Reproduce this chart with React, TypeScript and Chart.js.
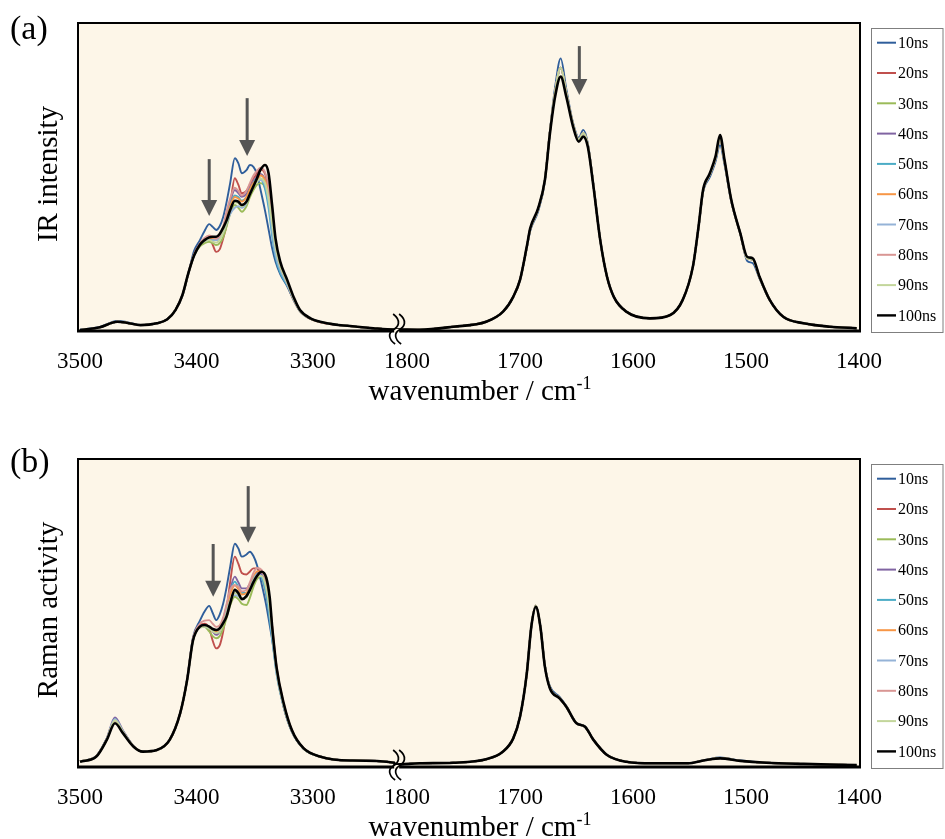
import React, { useEffect, useRef } from 'react';
import { Chart, registerables } from 'chart.js';
Chart.register(...registerables);

// ---------- series meta ----------
const seriesLabels = ['10ns', '20ns', '30ns', '40ns', '50ns', '60ns', '70ns', '80ns', '90ns', '100ns'];
const seriesColors = ['#2F5E9B', '#C0504D', '#9BBB59', '#8064A2', '#4BACC6', '#F79646', '#95B3D7', '#D99694', '#C3D69B', '#000000'];

// ---------- x axis (broken: 3500-3230 | 1811-1400) ----------
const xTickWaves = [3500, 3400, 3300, 1800, 1700, 1600, 1500, 1400];
const xTickLabels = ['3500', '3400', '3300', '1800', '1700', '1600', '1500', '1400'];
const BREAK_U = 278;
const X_MIN = -1.8;
const X_MAX = 690.3;
function toU(w: number): number {
  return w >= 2500 ? (3500 - w) * 1.03 : 289.4 + (1800 - w);
}

// ---------- (a) IR ----------
const irLeftWave = [3500, 3483, 3468, 3460, 3448, 3434, 3425, 3418, 3412, 3407, 3402, 3397, 3393, 3389, 3386, 3383, 3380, 3377, 3374, 3371, 3367, 3364, 3361, 3357, 3354, 3351, 3348, 3345, 3341, 3338, 3335, 3332, 3328, 3322, 3316, 3311, 3302, 3288, 3268, 3248, 3230];
const ir10L = [0.4, 1.3, 3.3, 2.9, 1.9, 2.5, 3.8, 6.8, 11.5, 18.5, 26.0, 29.5, 32.5, 34.7, 33.8, 32.8, 34.0, 37.0, 42.0, 48.0, 56.1, 54.5, 51.2, 52.2, 53.9, 53.3, 51.0, 46.0, 39.0, 33.0, 27.0, 22.5, 18.5, 14.5, 9.8, 6.5, 4.0, 2.5, 1.6, 0.9, 0.5];
const ir20L = [0.3, 1.2, 3.0, 2.7, 1.9, 2.5, 3.8, 6.8, 11.6, 18.6, 25.0, 28.3, 30.0, 30.5, 28.0, 25.7, 26.5, 30.0, 34.5, 41.0, 49.6, 47.5, 44.7, 45.5, 47.5, 49.5, 51.0, 52.5, 51.0, 46.0, 37.0, 27.5, 20.5, 15.0, 9.6, 6.4, 3.9, 2.4, 1.6, 0.9, 0.5];
const ir30L = [0.3, 1.2, 3.0, 2.7, 1.9, 2.5, 3.8, 6.8, 11.6, 18.6, 24.5, 27.5, 28.5, 29.0, 28.5, 27.9, 28.5, 30.5, 34.0, 38.0, 40.9, 40.0, 38.7, 40.5, 43.5, 45.8, 47.5, 48.0, 46.5, 41.5, 34.0, 27.0, 21.0, 15.5, 10.0, 6.5, 4.0, 2.5, 1.6, 0.9, 0.5];
const ir40L = [0.3, 1.2, 3.0, 2.7, 1.9, 2.5, 3.8, 6.8, 11.6, 18.6, 24.8, 28.3, 30.0, 30.8, 30.0, 29.5, 30.5, 33.0, 37.0, 42.0, 45.8, 44.8, 43.6, 44.5, 46.5, 48.5, 50.0, 51.0, 49.0, 44.0, 35.0, 26.5, 20.5, 15.5, 10.0, 6.5, 4.0, 2.5, 1.6, 0.9, 0.5];
const ir50L = [0.3, 1.2, 3.0, 2.7, 1.9, 2.5, 3.8, 6.8, 11.6, 18.6, 24.8, 28.2, 29.8, 30.0, 29.8, 29.5, 30.5, 33.0, 37.0, 41.0, 44.0, 43.5, 42.3, 43.5, 46.0, 48.0, 49.5, 49.5, 46.0, 40.0, 31.0, 24.0, 19.0, 14.8, 9.8, 6.4, 4.0, 2.5, 1.6, 0.9, 0.5];
const ir60L = [0.3, 1.2, 3.0, 2.7, 1.9, 2.5, 3.8, 6.8, 11.6, 18.6, 24.7, 28.1, 29.7, 30.2, 30.0, 29.8, 30.8, 33.2, 36.8, 40.5, 43.5, 43.0, 42.0, 43.5, 46.0, 48.0, 49.0, 50.5, 49.0, 45.0, 36.0, 27.0, 21.0, 15.8, 10.2, 6.6, 4.0, 2.5, 1.6, 0.9, 0.5];
const ir70L = [0.3, 1.2, 3.0, 2.7, 1.9, 2.5, 3.8, 6.8, 11.6, 18.6, 24.6, 28.0, 29.3, 29.5, 29.5, 29.5, 30.0, 32.0, 35.0, 38.0, 40.0, 40.5, 40.0, 41.5, 44.5, 47.0, 48.5, 49.0, 47.5, 42.0, 33.0, 25.0, 20.0, 15.2, 10.0, 6.5, 4.0, 2.5, 1.6, 0.9, 0.5];
const ir80L = [0.3, 1.2, 3.0, 2.7, 1.9, 2.5, 3.8, 6.8, 11.6, 18.6, 24.8, 28.4, 30.2, 31.0, 30.5, 30.0, 31.0, 34.0, 39.0, 43.0, 46.5, 45.5, 44.0, 45.5, 48.0, 50.5, 52.0, 53.0, 51.5, 47.0, 37.0, 28.0, 21.0, 15.8, 10.2, 6.6, 4.0, 2.5, 1.6, 0.9, 0.5];
const ir90L = [0.3, 1.2, 3.0, 2.7, 1.9, 2.5, 3.8, 6.8, 11.6, 18.6, 24.6, 28.0, 29.2, 29.5, 29.0, 28.7, 29.5, 32.0, 35.5, 39.5, 41.8, 41.5, 40.5, 42.0, 44.5, 47.0, 48.5, 49.5, 48.0, 43.0, 35.0, 27.0, 21.0, 15.8, 10.2, 6.6, 4.0, 2.5, 1.6, 0.9, 0.5];
const ir100L = [0.3, 1.2, 3.0, 2.7, 1.9, 2.5, 3.8, 6.8, 11.7, 18.7, 24.5, 28.0, 29.5, 30.4, 30.6, 30.6, 31.5, 33.5, 36.0, 39.3, 42.3, 42.0, 40.9, 42.0, 44.5, 47.0, 49.5, 52.3, 53.9, 51.2, 41.0, 30.0, 22.5, 16.6, 10.6, 6.8, 4.1, 2.5, 1.6, 0.9, 0.5];

const irRightWave = [1811, 1789, 1759, 1730, 1715, 1706, 1700, 1694, 1691, 1684, 1678, 1673.5, 1669, 1664, 1659, 1653, 1648, 1644, 1640, 1635, 1629, 1623, 1617, 1606, 1585, 1567, 1556, 1547, 1542, 1538, 1532, 1527, 1523, 1519, 1513, 1505, 1499, 1494, 1488, 1479, 1467, 1449, 1426, 1402];
const ir10R = [0.5, 0.4, 1.4, 3.0, 6.3, 11.1, 16.6, 27.0, 32.5, 38.8, 48.5, 65.0, 79.0, 88.5, 78.5, 67.5, 62.8, 65.3, 61.0, 47.5, 29.5, 17.6, 11.1, 6.3, 4.1, 5.2, 10.1, 20.9, 33.5, 45.0, 50.0, 55.0, 60.4, 54.0, 42.0, 31.5, 22.8, 22.0, 17.0, 10.1, 4.6, 2.5, 1.4, 0.9];
const irMidR = [0.5, 0.4, 1.4, 3.0, 6.3, 11.1, 16.6, 27.2, 33.0, 39.5, 49.0, 64.8, 77.5, 85.5, 77.2, 67.0, 62.2, 64.2, 60.5, 47.2, 29.5, 17.6, 11.1, 6.3, 4.1, 5.2, 10.1, 20.9, 33.7, 45.5, 50.8, 56.0, 62.2, 55.0, 42.3, 31.6, 23.6, 23.2, 17.4, 10.1, 4.6, 2.5, 1.4, 0.9];
const ir100R = [0.5, 0.4, 1.4, 3.0, 6.3, 11.1, 16.6, 27.4, 33.3, 39.8, 49.0, 64.2, 76.0, 82.6, 76.0, 66.3, 61.5, 63.1, 59.8, 46.9, 29.5, 17.6, 11.1, 6.3, 4.1, 5.2, 10.1, 20.9, 33.9, 45.8, 51.2, 56.6, 63.6, 55.5, 42.5, 31.7, 24.1, 23.6, 17.6, 10.1, 4.6, 2.5, 1.4, 0.9];

// ---------- (b) Raman ----------
const ramanLeftWave = [3500, 3486, 3477, 3470, 3463, 3454, 3446, 3434, 3423, 3414, 3408, 3403, 3397, 3393, 3389, 3386, 3383, 3380, 3377, 3374, 3371, 3367, 3364, 3361, 3357, 3354, 3351, 3348, 3344, 3340, 3337, 3335, 3331, 3325, 3318, 3308, 3294, 3268, 3230];
const ra10L = [1.8, 3.6, 9.2, 15.2, 11.5, 6.8, 5.0, 5.5, 8.8, 17.4, 28.5, 42.0, 47.5, 50.5, 52.3, 50.0, 47.7, 49.5, 53.1, 58.5, 65.0, 72.5, 71.0, 68.3, 69.0, 69.9, 68.5, 65.6, 59.5, 52.5, 46.0, 41.5, 31.0, 19.5, 11.5, 6.0, 3.4, 2.1, 1.4];
const ra20L = [1.8, 3.5, 9.0, 15.0, 11.2, 6.7, 5.0, 5.5, 8.8, 17.4, 28.3, 41.5, 46.0, 46.5, 45.0, 41.0, 38.5, 39.5, 44.0, 51.0, 60.0, 68.3, 66.0, 63.0, 62.5, 63.5, 64.5, 64.5, 62.0, 56.0, 49.0, 44.0, 31.0, 19.5, 11.6, 6.0, 3.4, 2.1, 1.4];
const ra30L = [1.8, 3.5, 9.0, 15.2, 11.3, 6.7, 5.0, 5.5, 8.8, 17.4, 28.2, 41.0, 45.3, 45.5, 44.0, 42.5, 41.8, 42.5, 45.0, 48.5, 52.5, 55.3, 54.5, 53.0, 52.6, 55.0, 58.5, 61.0, 62.0, 59.0, 52.0, 45.0, 31.0, 20.0, 11.8, 6.0, 3.4, 2.1, 1.4];
const ra40L = [1.8, 3.6, 9.4, 16.1, 11.8, 6.8, 5.0, 5.5, 8.8, 17.4, 28.2, 41.2, 45.6, 46.0, 45.5, 44.0, 42.9, 44.0, 47.0, 52.0, 57.5, 61.8, 60.0, 58.0, 58.0, 59.5, 61.5, 63.0, 62.5, 58.0, 51.0, 44.0, 31.0, 20.0, 11.8, 6.0, 3.4, 2.1, 1.4];
const ra50L = [1.8, 3.5, 9.2, 15.5, 11.5, 6.7, 5.0, 5.5, 8.8, 17.4, 28.2, 41.2, 45.6, 46.0, 45.5, 44.5, 44.0, 45.0, 48.0, 52.5, 57.0, 60.2, 58.5, 56.5, 56.5, 58.5, 61.0, 62.5, 61.5, 56.0, 48.0, 42.0, 30.0, 19.5, 11.6, 6.0, 3.4, 2.1, 1.4];
const ra60L = [1.8, 3.5, 9.1, 15.3, 11.4, 6.7, 5.0, 5.5, 8.8, 17.4, 28.2, 41.0, 45.5, 45.8, 45.3, 44.5, 44.0, 45.0, 47.5, 51.5, 56.0, 59.0, 57.8, 56.0, 56.5, 58.5, 61.5, 63.5, 63.5, 60.0, 53.0, 46.0, 32.0, 20.5, 12.0, 6.1, 3.4, 2.1, 1.4];
const ra70L = [1.8, 3.5, 9.2, 15.5, 11.5, 6.7, 5.0, 5.5, 8.8, 17.4, 28.2, 41.0, 45.3, 45.5, 45.0, 44.5, 44.5, 45.0, 47.5, 51.0, 54.0, 55.8, 55.5, 54.5, 55.5, 58.0, 61.0, 62.5, 62.0, 58.0, 50.0, 43.0, 30.0, 19.8, 11.8, 6.0, 3.4, 2.1, 1.4];
const ra80L = [1.8, 3.5, 9.0, 15.0, 11.2, 6.7, 5.0, 5.5, 8.8, 17.4, 28.3, 41.5, 46.5, 47.5, 47.7, 46.5, 45.5, 46.0, 48.5, 53.0, 57.5, 59.0, 58.5, 57.0, 57.5, 60.0, 63.0, 64.6, 64.0, 60.0, 53.0, 46.0, 32.0, 20.5, 12.0, 6.1, 3.4, 2.1, 1.4];
const ra90L = [1.8, 3.5, 9.0, 15.2, 11.3, 6.7, 5.0, 5.5, 8.8, 17.4, 28.2, 41.0, 45.3, 45.5, 45.0, 44.0, 43.5, 44.0, 46.5, 50.0, 54.0, 56.5, 56.0, 54.5, 55.0, 57.5, 60.5, 62.0, 62.0, 58.0, 51.0, 44.0, 31.0, 20.0, 11.8, 6.0, 3.4, 2.1, 1.4];
const ra100L = [1.7, 3.4, 8.8, 14.2, 10.9, 6.6, 5.0, 5.5, 8.8, 17.4, 28.2, 41.0, 45.6, 46.1, 45.6, 44.8, 44.5, 45.0, 46.7, 49.0, 53.1, 57.5, 56.5, 54.5, 55.5, 57.5, 60.0, 62.0, 63.4, 61.5, 55.0, 46.0, 32.0, 20.7, 12.0, 6.1, 3.4, 2.1, 1.4];

const ramanRightWave = [1811, 1789, 1759, 1730, 1715, 1706, 1700, 1694, 1690, 1686, 1682, 1678, 1673.5, 1665, 1659, 1650, 1642.5, 1635, 1623, 1606, 1582, 1552, 1535, 1523, 1505, 1482, 1449, 1402];
const ra10R = [0.8, 1.2, 1.4, 2.5, 5.0, 9.3, 16.3, 30.4, 45.6, 52.0, 45.8, 33.0, 26.2, 22.8, 19.8, 14.3, 13.2, 8.8, 3.9, 1.7, 1.2, 1.2, 2.4, 3.1, 2.1, 1.4, 1.0, 0.6];
const raMidR = [0.8, 1.2, 1.4, 2.5, 5.0, 9.3, 16.3, 30.4, 45.6, 52.4, 45.6, 32.8, 25.7, 22.4, 19.6, 14.2, 13.1, 8.8, 3.9, 1.7, 1.2, 1.2, 2.3, 2.9, 2.0, 1.4, 1.0, 0.6];
const ra100R = [0.8, 1.2, 1.4, 2.5, 5.0, 9.3, 16.3, 30.4, 45.6, 52.0, 45.6, 32.6, 25.5, 22.3, 19.6, 14.2, 13.1, 8.8, 3.9, 1.7, 1.2, 1.2, 2.3, 2.8, 2.0, 1.4, 1.0, 0.6];

// ---------- arrows (wavenumber, from value, to value) ----------
const irArrowWave = [3389, 3356.4, 1647.5];
const irArrowFrom = [55.8, 75.6, 92.5];
const irArrowTo = [37.3, 56.8, 76.6];
const ramanArrowWave = [3385.6, 3355.5];
const ramanArrowFrom = [72.4, 91.2];
const ramanArrowTo = [55.3, 72.8];

const SERIF = "'Liberation Serif', 'Times New Roman', serif";
const PLOT_BG = '#FDF6E8';
const ARROW_COLOR = '#555555';

interface PanelProps {
  top: number;
  height: number;
  plotTop: number;
  plotBottom: number;
  label: string;
  labelBaseline: number;
  yTitle: string;
  leftWave: number[];
  rightWave: number[];
  leftSeries: number[][];
  rightSeries: number[][];
  arrowWave: number[];
  arrowFrom: number[];
  arrowTo: number[];
}

function Panel(p: PanelProps) {
  const ref = useRef<HTMLCanvasElement | null>(null);
  useEffect(() => {
    const canvas = ref.current;
    if (!canvas) return;
    const datasets = seriesLabels.map((lab, i) => ({
      label: lab,
      data: [
        ...p.leftWave.map((w, j) => ({ x: toU(w), y: p.leftSeries[i][j] })),
        ...p.rightWave.map((w, j) => ({ x: toU(w), y: p.rightSeries[i][j] })),
      ],
      borderColor: seriesColors[i],
      backgroundColor: seriesColors[i],
      borderWidth: i === 9 ? 2.6 : 1.9,
      pointRadius: 0,
      pointHoverRadius: 0,
      cubicInterpolationMode: 'monotone' as const,
      fill: false,
      order: 9 - i,
    }));

    const overlay = {
      id: 'overlay',
      beforeDraw(chart: any) {
        const { ctx, chartArea: a } = chart;
        ctx.save();
        ctx.fillStyle = '#ffffff';
        ctx.fillRect(0, 0, chart.width, chart.height);
        ctx.fillStyle = PLOT_BG;
        ctx.fillRect(a.left, a.top, a.right - a.left, a.bottom - a.top);
        ctx.restore();
      },
      afterDraw(chart: any) {
        const { ctx, chartArea: a, scales } = chart;
        const xs = scales.x;
        const ys = scales.y;
        ctx.save();
        // plot border
        ctx.strokeStyle = '#000';
        ctx.lineWidth = 2;
        ctx.strokeRect(a.left, a.top, a.right - a.left, a.bottom - a.top);
        ctx.lineWidth = 3;
        ctx.beginPath();
        ctx.moveTo(a.left - 1, a.bottom);
        ctx.lineTo(a.right + 1, a.bottom);
        ctx.stroke();

        // axis break mark
        const bx = xs.getPixelForValue(BREAK_U) + 3;
        const by = a.bottom;
        ctx.fillStyle = PLOT_BG;
        ctx.fillRect(bx - 3, by - 2, 5, 4);
        ctx.strokeStyle = '#000';
        ctx.lineWidth = 1.7;
        [-3, 3].forEach((dx) => {
          const cx = bx + dx;
          ctx.beginPath();
          ctx.moveTo(cx - 1, by - 17);
          ctx.bezierCurveTo(cx + 8, by - 10, cx + 4, by - 4, cx - 1, by - 1);
          ctx.bezierCurveTo(cx - 6, by + 2, cx - 6, by + 8, cx + 1, by + 13);
          ctx.stroke();
        });

        // arrows
        ctx.strokeStyle = ARROW_COLOR;
        ctx.fillStyle = ARROW_COLOR;
        p.arrowWave.forEach((w, k) => {
          const x = xs.getPixelForValue(toU(w));
          const y0 = ys.getPixelForValue(p.arrowFrom[k]);
          const y1 = ys.getPixelForValue(p.arrowTo[k]);
          ctx.lineWidth = 3;
          ctx.beginPath();
          ctx.moveTo(x, y0);
          ctx.lineTo(x, y1 - 14);
          ctx.stroke();
          ctx.beginPath();
          ctx.moveTo(x - 8, y1 - 16);
          ctx.lineTo(x + 8, y1 - 16);
          ctx.lineTo(x, y1);
          ctx.closePath();
          ctx.fill();
        });

        // legend
        const lx = 871.5;
        const lTop = a.top + 5;
        const lBottom = a.bottom + 1;
        ctx.fillStyle = '#ffffff';
        ctx.fillRect(lx, lTop, 943 - lx, lBottom - lTop);
        ctx.strokeStyle = '#7F7F7F';
        ctx.lineWidth = 1;
        ctx.strokeRect(lx, lTop + 0.5, 943 - lx, lBottom - lTop);
        ctx.font = `16px ${SERIF}`;
        ctx.textAlign = 'left';
        ctx.textBaseline = 'middle';
        chart.data.datasets.forEach((ds: any, i: number) => {
          const yy = a.top + 19.7 + 30.3 * i;
          ctx.strokeStyle = ds.borderColor;
          ctx.lineWidth = i === 9 ? 2.4 : 2;
          ctx.beginPath();
          ctx.moveTo(877, yy);
          ctx.lineTo(896, yy);
          ctx.stroke();
          ctx.fillStyle = '#000';
          ctx.fillText(ds.label, 898, yy + 1);
        });

        // y title
        ctx.fillStyle = '#000';
        ctx.font = `29px ${SERIF}`;
        ctx.save();
        ctx.translate(49, (a.top + a.bottom) / 2 - 3);
        ctx.rotate(-Math.PI / 2);
        ctx.textAlign = 'center';
        ctx.textBaseline = 'middle';
        ctx.fillText(p.yTitle, 0, 0);
        ctx.restore();

        // x title with superscript
        const main = 'wavenumber / cm';
        const sup = '-1';
        ctx.font = `29px ${SERIF}`;
        const w1 = ctx.measureText(main).width;
        ctx.font = `18px ${SERIF}`;
        const w2 = ctx.measureText(sup).width;
        const sx = 480 - (w1 + w2) / 2;
        const base = a.bottom + 69;
        ctx.textAlign = 'left';
        ctx.textBaseline = 'alphabetic';
        ctx.font = `29px ${SERIF}`;
        ctx.fillText(main, sx, base);
        ctx.font = `18px ${SERIF}`;
        ctx.fillText(sup, sx + w1, base - 11);

        // panel label
        ctx.font = `34px ${SERIF}`;
        ctx.fillText(p.label, 10, p.labelBaseline);
        ctx.restore();
      },
    };

    const chart = new Chart(canvas, {
      type: 'line',
      data: { datasets: datasets as any },
      options: {
        responsive: false,
        animation: false,
        devicePixelRatio: 1,
        layout: { padding: { left: 78, right: 85, top: p.plotTop, bottom: 0 } },
        plugins: {
          legend: { display: false },
          tooltip: { enabled: false },
          title: { display: false },
        },
        events: [],
        scales: {
          x: {
            type: 'linear',
            min: X_MIN,
            max: X_MAX,
            grid: { display: false, drawTicks: false },
            border: { display: false },
            ticks: {
              autoSkip: false,
              maxRotation: 0,
              padding: 17,
              color: '#000',
              font: { family: SERIF, size: 23 },
              callback: (_v: any, i: number) => xTickLabels[i],
            },
            afterBuildTicks: (s: any) => {
              s.ticks = xTickWaves.map((w) => ({ value: toU(w) }));
            },
            afterFit: (s: any) => {
              s.height = p.height - p.plotBottom;
            },
          },
          y: { type: 'linear', display: false, min: 0, max: 100 },
        },
      } as any,
      plugins: [overlay],
    });
    return () => chart.destroy();
  }, []);
  return (
    <canvas
      ref={ref}
      width={945}
      height={p.height}
      style={{ position: 'absolute', left: 0, top: p.top, width: 945, height: p.height, display: 'block' }}
    />
  );
}

export default function App() {
  return (
    <div style={{ position: 'absolute', left: 0, top: 0, width: 945, height: 839, background: '#fff', overflow: 'hidden' }}>
      <Panel
        top={0}
        height={410}
        plotTop={23}
        plotBottom={331}
        label="(a)"
        labelBaseline={39}
        yTitle="IR intensity"
        leftWave={irLeftWave}
        rightWave={irRightWave}
        leftSeries={[ir10L, ir20L, ir30L, ir40L, ir50L, ir60L, ir70L, ir80L, ir90L, ir100L]}
        rightSeries={[ir10R, irMidR, irMidR, irMidR, irMidR, irMidR, irMidR, irMidR, irMidR, ir100R]}
        arrowWave={irArrowWave}
        arrowFrom={irArrowFrom}
        arrowTo={irArrowTo}
      />
      <Panel
        top={410}
        height={429}
        plotTop={49}
        plotBottom={357}
        label="(b)"
        labelBaseline={62}
        yTitle="Raman activity"
        leftWave={ramanLeftWave}
        rightWave={ramanRightWave}
        leftSeries={[ra10L, ra20L, ra30L, ra40L, ra50L, ra60L, ra70L, ra80L, ra90L, ra100L]}
        rightSeries={[ra10R, raMidR, raMidR, raMidR, raMidR, raMidR, raMidR, raMidR, raMidR, ra100R]}
        arrowWave={ramanArrowWave}
        arrowFrom={ramanArrowFrom}
        arrowTo={ramanArrowTo}
      />
    </div>
  );
}
